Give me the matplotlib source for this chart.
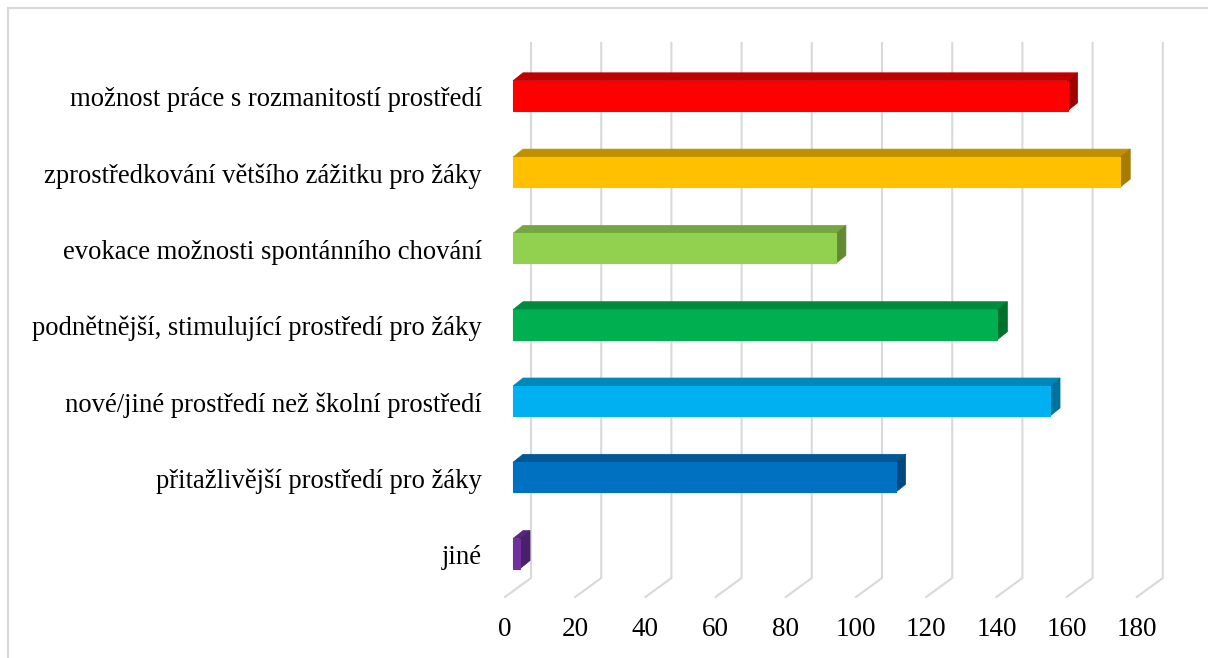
import matplotlib
matplotlib.use("Agg")
import matplotlib.pyplot as plt
from matplotlib.patches import Polygon, Rectangle

# data (top to bottom as shown)
kategorie = [
    "možnost práce s rozmanitostí prostředí",
    "zprostředkování většího zážitku pro žáky",
    "evokace možnosti spontánního chování",
    "podnětnější, stimulující prostředí pro žáky",
    "nové/jiné prostředí než školní prostředí",
    "přitažlivější prostředí pro žáky",
    "jiné",
]
hodnoty = [158, 173, 92, 138, 153, 109, 2]
barvy_predni = ["#FF0000", "#FFC000", "#92D050", "#00B050", "#00B0F0", "#0070C0", "#7030A0"]
barvy_horni = ["#C00000", "#C09000", "#76A640", "#008A3D", "#0088BA", "#005797", "#59267F"]
barvy_bok = ["#A00000", "#A67C00", "#628A35", "#00702F", "#00729C", "#004A80", "#4A1F6B"]
osa_x = [0, 20, 40, 60, 80, 100, 120, 140, 160, 180]

W, H = 1208, 658
PX_X = 3.51          # pixelu na jednotku hodnoty
PX_Y = 76.3          # pixelu na kategorii
X0 = 513             # pixel, kde zacina predni stena sloupcu
Y0 = 553.6           # pixel stredu posledni kategorie
SEDA = "#D9D9D9"
FONT = "Liberation Serif"


def px_x(p):
    return (p - X0) / PX_X


def px_y(p):
    return (Y0 - p) / PX_Y


fig = plt.figure(figsize=(W / 100, H / 100), dpi=100)
ax = fig.add_axes([0, 0, 1, 1])
ax.set_xlim(px_x(0), px_x(W))
ax.set_ylim(px_y(H), px_y(0))
ax.axis("off")

# ramecek grafu
fig.patches.append(Rectangle((8 / W, -0.1), 2, 1.1 - 7.5 / H, transform=fig.transFigure,
                             fill=False, edgecolor=SEDA, linewidth=1.6))

# mrizka: zadni stena + podlaha
zad = px_x(531)
pred = px_x(505)
y_horni = px_y(43)
y_zad = px_y(578)
y_pred = px_y(597)
for v in osa_x:
    ax.plot([v + zad, v + zad, v + pred], [y_horni, y_zad, y_pred],
            color=SEDA, linewidth=1.5, solid_joinstyle="miter", zorder=1)
    ax.text(v + pred, px_y(629), str(v), ha="center", va="center",
            fontsize=19.5, family=FONT, color="black")

# sloupce (3D efekt)
vyska = 30 / PX_Y
hx = 10 / PX_X
hy = 8 / PX_Y
n = len(kategorie)
pozice = list(range(n - 1, -1, -1))
ax.barh(pozice, hodnoty, height=vyska, left=0, color=barvy_predni,
        edgecolor=barvy_predni, linewidth=0.8, zorder=3)
for y, v, ch, cb in zip(pozice, hodnoty, barvy_horni, barvy_bok):
    t = y + vyska / 2
    b = y - vyska / 2
    ax.add_patch(Polygon([(0, t), (v, t), (v + hx, t + hy), (hx, t + hy)],
                         closed=True, facecolor=ch, edgecolor=ch, linewidth=0.5, zorder=2))
    ax.add_patch(Polygon([(v, b), (v, t), (v + hx, t + hy), (v + hx, b + hy)],
                         closed=True, facecolor=cb, edgecolor=cb, linewidth=0.5, zorder=2))

for y, k in zip(pozice, kategorie):
    ax.text(px_x(482), y - 4 / PX_Y, k, ha="right", va="center",
            fontsize=19.2, family=FONT, color="black")

fig.savefig("out.png", dpi=100, facecolor="white")
